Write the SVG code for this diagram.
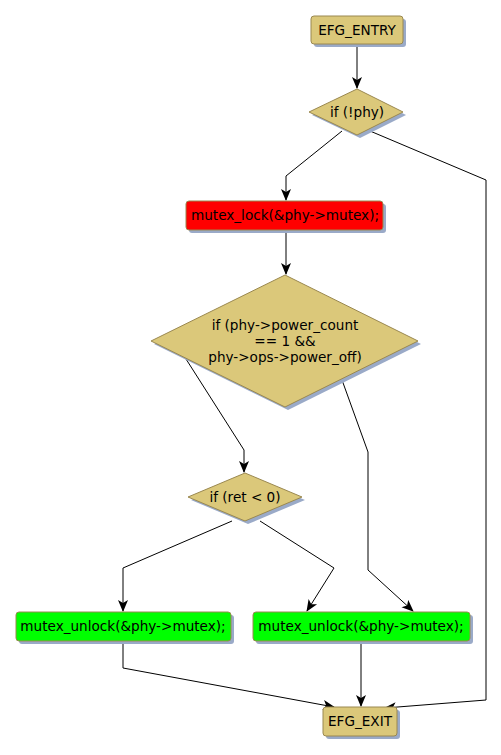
<svg xmlns="http://www.w3.org/2000/svg" width="501" height="755" viewBox="0 0 501 755">
<style>
.n{stroke:#9a8850;stroke-width:1}
.k{fill:#dbc87a}
.r{fill:#ff0000}
.g{fill:#00ff00}
.sh{fill:#9aaac8;stroke:none}
text{font-family:"DejaVu Sans",sans-serif;font-size:13.6px;fill:#000;text-anchor:middle}
.e{fill:none;stroke:#000;stroke-width:1}
</style>
<defs>
<marker id="a" viewBox="0 0 12 12" refX="11" refY="6" markerWidth="12" markerHeight="12" markerUnits="userSpaceOnUse" orient="auto">
<path d="M0,1 L12,6 L0,11 L3,6 Z" fill="#000"/>
</marker>
</defs>
<rect width="501" height="755" fill="#fff"/>
<g id="edges">
<path class="e" d="M357,44 L357,88" marker-end="url(#a)"/>
<path class="e" d="M342,131 L286,176 L286,200" marker-end="url(#a)"/>
<path class="e" d="M370,131 L486,180 L486,700 L385,708" marker-end="url(#a)"/>
<path class="e" d="M286,230 L286,274" marker-end="url(#a)"/>
<path class="e" d="M186,359 L244,450 L244,472" marker-end="url(#a)"/>
<path class="e" d="M342,380 L368,452 L368,570 L413,611" marker-end="url(#a)"/>
<path class="e" d="M232,521 L123,568 L123,611" marker-end="url(#a)"/>
<path class="e" d="M260,521 L334,568 L307,611" marker-end="url(#a)"/>
<path class="e" d="M123,641 L123,668 L334,707" marker-end="url(#a)"/>
<path class="e" d="M361,641 L361,706" marker-end="url(#a)"/>
</g>
<g id="entry">
<rect class="sh" x="314" y="19" width="92" height="28" rx="3"/>
<rect class="n k" x="311" y="16" width="92" height="28" rx="3"/>
<text x="357" y="35">EFG_ENTRY</text>
</g>
<g id="if_phy">
<polygon class="sh" points="360,92 406,115 360,138 312,115"/>
<polygon class="n k" points="357,89 403,112 357,135 309,112"/>
<text x="357" y="117">if (!phy)</text>
</g>
<g id="lock">
<rect class="sh" x="189" y="204" width="197" height="29" rx="3"/>
<rect class="n r" x="186" y="201" width="197" height="29" rx="3"/>
<text x="285" y="220">mutex_lock(&amp;phy-&gt;mutex);</text>
</g>
<g id="if_power">
<polygon class="sh" points="288,278 421,344 288,410 154,344"/>
<polygon class="n k" points="285,275 418,341 285,407 151,341"/>
<text x="285" y="330">if (phy-&gt;power_count</text>
<text x="285" y="346">== 1 &amp;&amp;</text>
<text x="285" y="362">phy-&gt;ops-&gt;power_off)</text>
</g>
<g id="if_ret">
<polygon class="sh" points="248,476 305,500 248,524 191,500"/>
<polygon class="n k" points="245,473 302,497 245,521 188,497"/>
<text x="245" y="502">if (ret &lt; 0)</text>
</g>
<g id="unlock1">
<rect class="sh" x="19" y="615" width="215" height="29" rx="3"/>
<rect class="n g" x="16" y="612" width="215" height="29" rx="3"/>
<text x="123" y="631">mutex_unlock(&amp;phy-&gt;mutex);</text>
</g>
<g id="unlock2">
<rect class="sh" x="256" y="615" width="217" height="29" rx="3"/>
<rect class="n g" x="253" y="612" width="217" height="29" rx="3"/>
<text x="361" y="631">mutex_unlock(&amp;phy-&gt;mutex);</text>
</g>
<g id="exit">
<rect class="sh" x="326" y="710" width="74" height="29" rx="3"/>
<rect class="n k" x="323" y="707" width="74" height="29" rx="3"/>
<text x="360" y="726">EFG_EXIT</text>
</g>
</svg>
